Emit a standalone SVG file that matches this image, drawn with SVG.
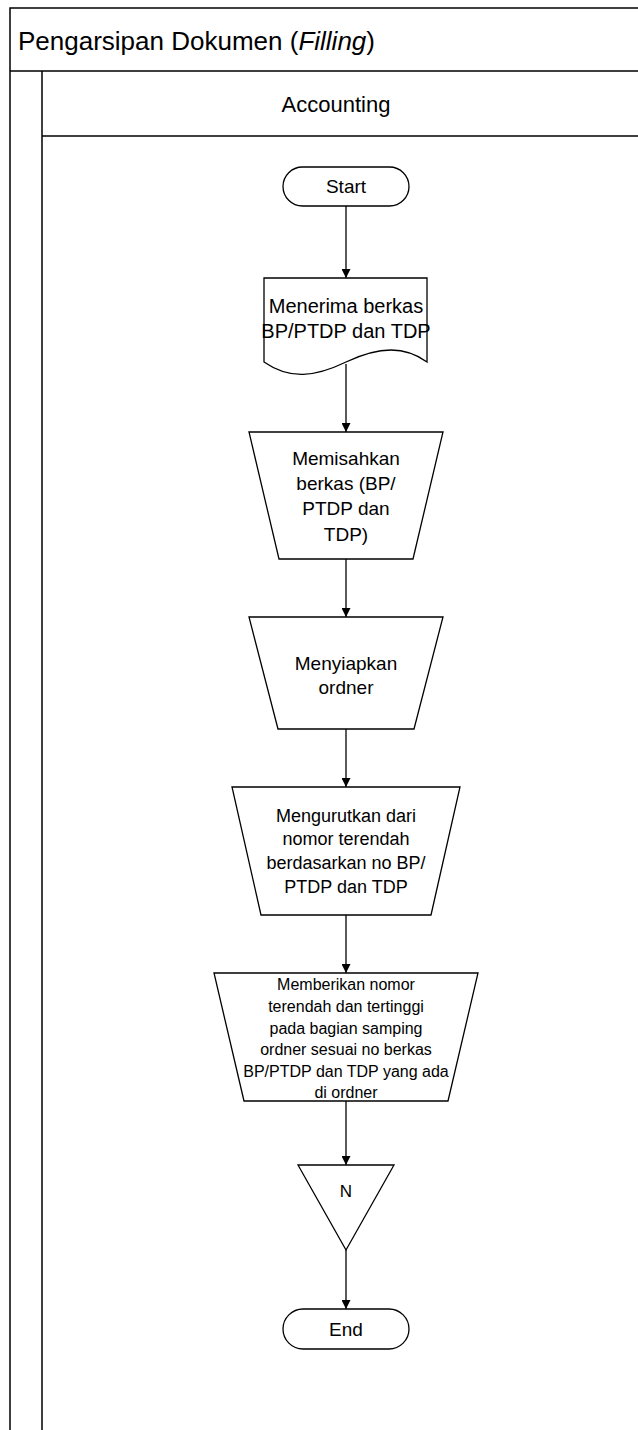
<svg xmlns="http://www.w3.org/2000/svg" width="638" height="1430" viewBox="0 0 638 1430">
<style>
  .frame { stroke: #000; stroke-width: 1.5; fill: none; }
  .shape { stroke: #000; stroke-width: 1.3; fill: #fff; }
  .conn { stroke: #000; stroke-width: 1.3; fill: none; marker-end: url(#arrow); }
  text { font-family: "Liberation Sans", Arial, sans-serif; fill: #000; text-anchor: middle; }
</style>
<defs>
  <marker id="arrow" viewBox="0 0 10 10" refX="10" refY="5" markerWidth="9" markerHeight="9" markerUnits="userSpaceOnUse" orient="auto">
    <path d="M0,0 L10,5 L0,10 Z" fill="#000"/>
  </marker>
</defs>
<rect width="638" height="1430" fill="#fff"/>
<g id="pool">
  <path class="frame" d="M638,8 H10 V1430 M10,71 H638 M42,71 V1430 M42,136 H638"/>
  <text x="18" y="50" font-size="26" style="text-anchor:start">Pengarsipan Dokumen (<tspan font-style="italic">Filling</tspan>)</text>
  <text x="336" y="112" font-size="22">Accounting</text>
</g>
<g id="connectors">
  <line class="conn" x1="346" y1="206" x2="346" y2="278"/>
  <line class="conn" x1="346" y1="364" x2="346" y2="432"/>
  <line class="conn" x1="346" y1="559" x2="346" y2="617"/>
  <line class="conn" x1="346" y1="729" x2="346" y2="787"/>
  <line class="conn" x1="346" y1="915" x2="346" y2="973"/>
  <line class="conn" x1="346" y1="1101" x2="346" y2="1165"/>
  <line class="conn" x1="346" y1="1250" x2="346" y2="1309"/>
</g>
<g id="start">
  <rect class="shape" x="283" y="167" width="126" height="39" rx="19.5"/>
  <text x="346" y="193" font-size="19">Start</text>
</g>
<g id="doc1">
  <path class="shape" d="M264,278 H427 V362 C405,346 380,346 346,362 C315,377 290,380 264,362 Z"/>
  <text x="346" y="313" font-size="20">Menerima berkas</text>
  <text x="346" y="338" font-size="20">BP/PTDP dan TDP</text>
</g>
<g id="op1">
  <path class="shape" d="M249,432 H443 L413,559 H279 Z"/>
  <text x="346" y="465" font-size="19">Memisahkan</text>
  <text x="346" y="490" font-size="19">berkas (BP/</text>
  <text x="346" y="515" font-size="19">PTDP dan</text>
  <text x="346" y="541" font-size="19">TDP)</text>
</g>
<g id="op2">
  <path class="shape" d="M249,617 H443 L414,729 H278 Z"/>
  <text x="346" y="670" font-size="19">Menyiapkan</text>
  <text x="346" y="694" font-size="19">ordner</text>
</g>
<g id="op3">
  <path class="shape" d="M232,787 H460 L431,915 H261 Z"/>
  <text x="346" y="822" font-size="18">Mengurutkan dari</text>
  <text x="346" y="845" font-size="18">nomor terendah</text>
  <text x="346" y="869" font-size="18">berdasarkan no BP/</text>
  <text x="346" y="893" font-size="18">PTDP dan TDP</text>
</g>
<g id="op4">
  <path class="shape" d="M214,973 H478 L448,1101 H244 Z"/>
  <text x="346" y="990" font-size="16">Memberikan nomor</text>
  <text x="346" y="1012" font-size="16">terendah dan tertinggi</text>
  <text x="346" y="1034" font-size="16">pada bagian samping</text>
  <text x="346" y="1055" font-size="16">ordner sesuai no berkas</text>
  <text x="346" y="1077" font-size="16">BP/PTDP dan TDP yang ada</text>
  <text x="346" y="1098" font-size="16">di ordner</text>
</g>
<g id="offpage">
  <path class="shape" d="M298,1165 H394 L346,1250 Z"/>
  <text x="346" y="1197" font-size="17">N</text>
</g>
<g id="end">
  <rect class="shape" x="283" y="1309" width="126" height="40" rx="20"/>
  <text x="346" y="1336" font-size="19">End</text>
</g>
</svg>
